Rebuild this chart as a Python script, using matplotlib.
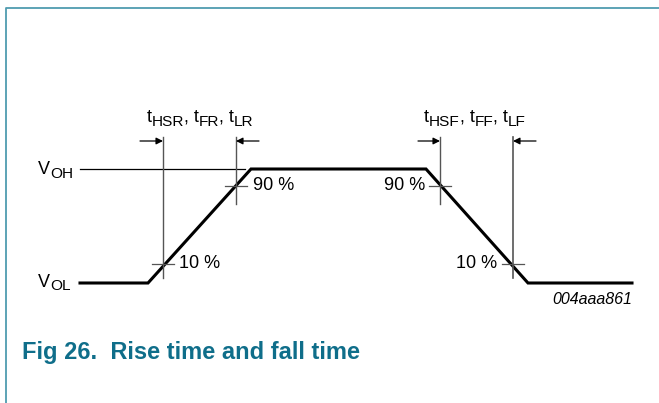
import matplotlib
matplotlib.use("Agg")
import matplotlib.pyplot as plt
from matplotlib.transforms import offset_copy

plt.rcParams['font.family'] = ['Liberation Sans', 'DejaVu Sans']

# waveform vertices (time, level) in picture units
wave_t = [80, 148, 251, 426, 528, 632]
wave_v = [283, 283, 169, 169, 283, 283]

# marker lines: x of verticals, crossing levels
v_low, v_high = 264, 186
rise_marks = [163, 236]
fall_marks = [440, 513]
voh_label = [("V", False), ("OH", True)]
vol_label = [("V", False), ("OL", True)]
rise_label = [("t", False), ("HSR", True), (", t", False), ("FR", True),
              (", t", False), ("LR", True)]
fall_label = [("t", False), ("HSF", True), (", t", False), ("FF", True),
              (", t", False), ("LF", True)]
pct_labels = ["10 %", "90 %"]
code = "004aaa861"
caption = "Fig 26.  Rise time and fall time"

W, H = 659, 403
fig = plt.figure(figsize=(W / 100, H / 100), dpi=100)
ax = fig.add_axes([0, 0, 1, 1])
ax.set_xlim(0, W)
ax.set_ylim(H, 0)
ax.axis('off')

teal = '#0f6e8a'
edge = '#4f9cb0'
grey = '#555555'
fs = 13
sub_k = 0.85


def runs(x, y, parts, ha='left', size=fs):
    # draw text with subscripts piece by piece, baseline at y
    r = fig.canvas.get_renderer()
    widths = []
    for s, sub in parts:
        t = ax.text(0, 0, s, fontsize=size * (sub_k if sub else 1))
        widths.append(t.get_window_extent(r).width)
        t.remove()
    total = sum(widths)
    x0 = x - total / 2 if ha == 'center' else x
    base = ax.transData
    dx = 0
    for (s, sub), w in zip(parts, widths):
        tr = offset_copy(base, fig=fig, x=dx * 72 / 100,
                         y=(-3.5 if sub else 0) * 72 / 100, units='points')
        ax.text(x0, y, s, fontsize=size * (sub_k if sub else 1), transform=tr,
                ha='left', va='baseline')
        dx += w


# frame
ax.plot([5.5, 5.5, W], [H, 7.5, 7.5], color=edge, lw=1.3, solid_capstyle='butt')

# reference levels
ax.plot([80, 245], [169, 169], color='black', lw=0.9)
ax.plot(wave_t, wave_v, color='black', lw=2.2, solid_joinstyle='miter')

runs(38, 174, voh_label)
runs(38, 287, vol_label)

# verticals
ax.plot([rise_marks[0]] * 2, [137, 278], color=grey, lw=1.0)
ax.plot([rise_marks[1]] * 2, [137, 204], color=grey, lw=1.0)
ax.plot([fall_marks[0]] * 2, [137, 204], color=grey, lw=1.0)
ax.plot([fall_marks[1]] * 2, [137, 278], color=grey, lw=1.2)

# crossing ticks
for x, y in [(rise_marks[0], v_low), (rise_marks[1], v_high),
             (fall_marks[0], v_high), (fall_marks[1], v_low)]:
    ax.plot([x - 11, x + 11], [y, y], color=grey, lw=0.9)

# arrows
arr = dict(arrowstyle='-|>', color='black', lw=0.9, mutation_scale=10,
           shrinkA=0, shrinkB=0)
ya = 141
ax.annotate('', xy=(rise_marks[0], ya), xytext=(140, ya), arrowprops=arr)
ax.annotate('', xy=(rise_marks[1], ya), xytext=(259, ya), arrowprops=arr)
ax.annotate('', xy=(fall_marks[0], ya), xytext=(418, ya), arrowprops=arr)
ax.annotate('', xy=(fall_marks[1], ya), xytext=(536, ya), arrowprops=arr)

runs(200, 122, rise_label, ha='center')
runs(475, 122, fall_label, ha='center')

ax.text(179, v_low, pct_labels[0], fontsize=fs, ha='left', va='center')
ax.text(253, v_high, pct_labels[1], fontsize=fs, ha='left', va='center')
ax.text(425, v_high, pct_labels[1], fontsize=fs, ha='right', va='center')
ax.text(497, v_low, pct_labels[0], fontsize=fs, ha='right', va='center')

ax.text(632, 300, code, fontsize=11.5, style='italic', ha='right', va='center')

ax.text(22, 353, caption, fontsize=17, fontweight='bold', color=teal,
        ha='left', va='center')

fig.savefig('out.png', dpi=100)
